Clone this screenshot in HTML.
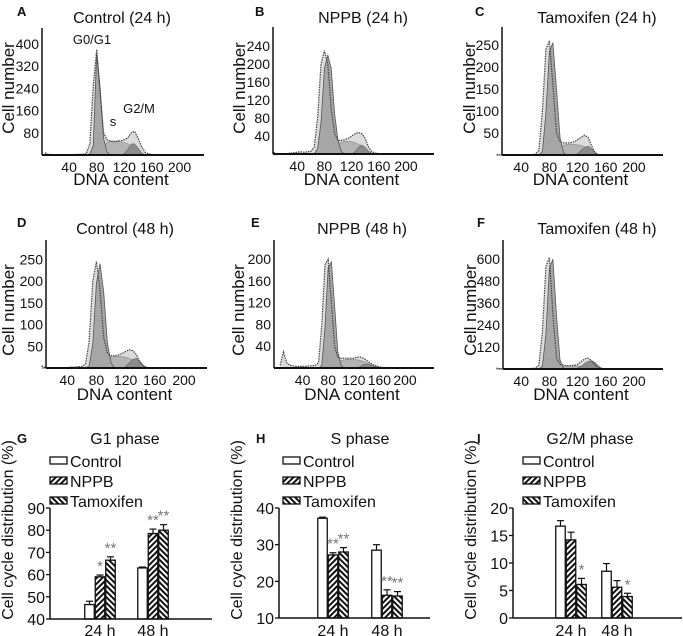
<!DOCTYPE html>
<html><head><meta charset="utf-8">
<style>
html,body{margin:0;padding:0;background:#fff;}
svg{display:block;font-family:"Liberation Sans",Arial,sans-serif;}
</style></head>
<body>
<svg id="fig" width="683" height="636" viewBox="0 0 683 636">
<defs>
<pattern id="hatchN" patternUnits="userSpaceOnUse" width="4" height="4" patternTransform="rotate(45)">
<rect width="4" height="4" fill="#fff"/><rect width="2" height="4" fill="#111"/></pattern>
<pattern id="hatchT" patternUnits="userSpaceOnUse" width="4" height="4" patternTransform="rotate(-45)">
<rect width="4" height="4" fill="#fff"/><rect width="2" height="4" fill="#111"/></pattern>
</defs>
</svg>
<script>
// ---- Histogram data (DNA content bins) ----
const bins = [5,10,15,20,25,30,35,40,45,50,55,60,65,70,75,80,85,90,95,100,105,110,115,120,125,130,135,140,145,150,155,160,165,170];
const rawA = [8,2,1,0,0,0,1,1,1,2,2,3,5,40,250,380,220,80,55,50,48,50,52,55,62,80,85,60,30,10,4,2,1,0];
const g1A  = [0,0,0,0,0,0,0,0,0,0,0,0,0,3,35,370,240,60,10,0,0,0,0,0,0,0,0,0,0,0,0,0,0,0];
const sA   = [0,0,0,0,0,0,0,0,0,0,0,0,0,0,0,0,5,30,45,50,50,50,48,45,40,30,18,8,2,0,0,0,0,0];
const g2A  = [0,0,0,0,0,0,0,0,0,0,0,0,0,0,0,0,0,0,0,0,0,0,0,5,20,40,40,25,8,0,0,0,0,0];
const rawB = [4,1,1,1,1,2,3,4,5,4,5,6,15,80,200,230,200,100,45,30,30,32,35,40,45,48,45,35,15,5,2,1,0,0];
const g1B  = [0,0,0,0,0,0,0,0,0,0,0,0,0,12,70,190,220,190,90,30,5,0,0,0,0,0,0,0,0,0,0,0,0,0];
const sB   = [0,0,0,0,0,0,0,0,0,0,0,0,0,0,0,0,0,4,15,22,26,28,28,27,25,22,18,12,6,2,0,0,0,0];
const g2B  = [0,0,0,0,0,0,0,0,0,0,0,0,0,0,0,0,0,0,0,0,0,0,0,0,5,15,20,15,6,1,0,0,0,0];
const rawC = [1,0,0,0,0,0,0,0,0,0,1,2,10,100,240,260,160,50,30,28,27,28,30,35,40,45,40,20,5,1,0,0,0,0];
const g1C  = [0,0,0,0,0,0,0,0,0,0,0,0,0,8,95,235,255,150,40,5,0,0,0,0,0,0,0,0,0,0,0,0,0,0];
const sC   = [0,0,0,0,0,0,0,0,0,0,0,0,0,0,0,0,0,4,15,22,24,25,24,23,22,18,12,6,2,0,0,0,0,0];
const g2C  = [0,0,0,0,0,0,0,0,0,0,0,0,0,0,0,0,0,0,0,0,0,0,0,3,10,18,20,14,5,0,0,0,0,0];
const rawD = [5,1,1,0,0,1,1,1,2,2,3,4,8,60,200,245,180,70,35,28,28,30,33,38,42,40,30,12,4,1,0,0,0,0];
const g1D  = [0,0,0,0,0,0,0,0,0,0,0,0,0,5,55,195,240,175,60,12,0,0,0,0,0,0,0,0,0,0,0,0,0,0];
const sD   = [0,0,0,0,0,0,0,0,0,0,0,0,0,0,0,0,0,5,18,25,27,27,26,25,22,18,12,6,2,0,0,0,0,0];
const g2D  = [0,0,0,0,0,0,0,0,0,0,0,0,0,0,0,0,0,0,0,0,0,0,0,3,12,20,22,15,5,0,0,0,0,0];
const rawE = [5,30,10,5,4,3,3,3,3,4,4,5,10,80,190,200,120,40,20,18,18,18,18,18,20,20,18,14,10,6,4,2,1,1];
const g1E  = [0,0,0,0,0,0,0,0,0,0,0,0,0,5,75,185,195,115,30,5,0,0,0,0,0,0,0,0,0,0,0,0,0,0];
const sE   = [0,0,0,0,0,0,0,0,0,0,0,0,0,0,0,0,0,3,10,14,15,16,16,16,15,14,12,10,7,4,2,0,0,0];
const g2E  = [0,0,0,0,0,0,0,0,0,0,0,0,0,0,0,0,0,0,0,0,0,0,0,0,0,3,6,7,6,4,2,0,0,0];
const rawF = [5,2,1,1,1,1,1,1,1,2,3,5,20,200,560,610,300,60,25,20,18,18,20,25,40,55,60,45,20,6,2,1,0,0];
const g1F  = [0,0,0,0,0,0,0,0,0,0,0,0,0,15,190,550,600,290,50,5,0,0,0,0,0,0,0,0,0,0,0,0,0,0];
const sF   = [0,0,0,0,0,0,0,0,0,0,0,0,0,0,0,0,0,5,12,15,16,16,16,16,15,12,8,5,2,0,0,0,0,0];
const g2F  = [0,0,0,0,0,0,0,0,0,0,0,0,0,0,0,0,0,0,0,0,0,0,0,5,15,30,42,45,35,15,3,0,0,0];
const dnaTicks = [40,80,120,160,200];

// ---- Bar chart data ----
const groups = ["24 h","48 h"];
const seriesNames = ["Control","NPPB","Tamoxifen"];
const g1Vals = [[46.5,63],[59,78.5],[66.5,80]];
const g1Errs = [[1.5,0.4],[0.8,2],[1.5,2.5]];
const g1Stars = [["",""],["*","**"],["**","**"]];
const sVals = [[37.2,28.5],[27.2,16.2],[28,16]];
const sErrs = [[0.3,1.5],[0.6,1.5],[1.2,1.2]];
const sStars = [["",""],["**","**"],["**","**"]];
const g2Vals = [[16.7,8.5],[14.2,5.6],[6.1,3.9]];
const g2Errs = [[1,1.4],[1.4,1.2],[1.1,0.6]];
const g2Stars = [["",""],["",""],["*","*"]];
const g1Ticks = [40,50,60,70,80,90];
const sTicks = [10,20,30,40];
const g2Ticks = [0,5,10,15,20];

const svg = document.getElementById('fig');
const NS = 'http://www.w3.org/2000/svg';
function mk(tag, attrs, parent){ const e=document.createElementNS(NS,tag); for(const k in attrs) e.setAttribute(k,attrs[k]); (parent||svg).appendChild(e); return e; }
function txt(s, x, y, size, anchor, parent, weight){ const t=mk('text',{x:x,y:y,'font-size':size,'text-anchor':anchor||'middle',fill:'#111'},parent); if(weight) t.setAttribute('font-weight',weight); t.textContent=s; return t; }

const hists = [
 {id:'a',letter:'A',title:'Control (24 h)',raw:rawA,g1:g1A,s:sA,g2:g2A,x0:41.5,kx:0.69,y0:155,ky:0.2775,left:42,right:204,top:28,yt:[80,160,240,320,400],lx:17,ly:16,tx:122,ty:23,ylx:12,yly:88,dy:185},
 {id:'b',letter:'B',title:'NPPB (24 h)',raw:rawB,g1:g1B,s:sB,g2:g2B,x0:270,kx:0.68,y0:154,ky:0.45,left:273,right:434,top:27,yt:[40,80,120,160,200,240],lx:255,ly:16,tx:363,ty:23,ylx:243,yly:88,dy:185},
 {id:'c',letter:'C',title:'Tamoxifen (24 h)',raw:rawC,g1:g1C,s:sC,g2:g2C,x0:493,kx:0.705,y0:155,ky:0.44,left:502,right:663,top:27,yt:[50,100,150,200,250],lx:475,ly:16,tx:597,ty:23,ylx:473,yly:88,dy:185},
 {id:'d',letter:'D',title:'Control (48 h)',raw:rawD,g1:g1D,s:sD,g2:g2D,x0:38,kx:0.73,y0:368,ky:0.435,left:46,right:207,top:240,yt:[50,100,150,200,250],lx:17,ly:227,tx:125,ty:234,ylx:12,yly:310,dy:400},
 {id:'e',letter:'E',title:'NPPB (48 h)',raw:rawE,g1:g1E,s:sE,g2:g2E,x0:277,kx:0.64,y0:368,ky:0.544,left:274,right:434,top:240,yt:[40,80,120,160,200],lx:251,ly:227,tx:362,ty:234,ylx:242,yly:310,dy:400},
 {id:'f',letter:'F',title:'Tamoxifen (48 h)',raw:rawF,g1:g1F,s:sF,g2:g2F,x0:493,kx:0.705,y0:369,ky:0.183,left:503,right:663,top:240,yt:[120,240,360,480,600],lx:477,ly:227,tx:597,ty:234,ylx:474,yly:310,dy:400}
];

hists.forEach(p=>{
  const g = mk('g',{});
  
  
  const xs = v=>p.x0+v*p.kx, ys = v=>p.y0-v*p.ky;
  const yb = p.y0;
  function area(arr){ let d='M'+xs(bins[0])+','+yb; bins.forEach((b,i)=>{ d+=' L'+xs(b).toFixed(1)+','+ys(arr[i]).toFixed(1); }); d+=' L'+xs(bins[bins.length-1])+','+yb+' Z'; return d; }
  function line(arr){ let d=''; bins.forEach((b,i)=>{ d+=(i?' L':'M')+xs(b).toFixed(1)+','+ys(arr[i]).toFixed(1); }); d+=' L'+p.right+','+ys(0); return d; }
  const rf = mk('path',{d:area(p.raw),fill:'#dcdcdc'},g);
   
  const sf = mk('path',{d:area(p.s),fill:'#b4b4b4',stroke:'#888','stroke-width':0.6},g);
   
  const g2f = mk('path',{d:area(p.g2),fill:'#8c8c8c',stroke:'#666','stroke-width':0.6},g);
   
  const g1f = mk('path',{d:area(p.g1),fill:'#a6a6a6',stroke:'#555','stroke-width':0.8},g);
   
  const rl = mk('path',{d:line(p.raw),fill:'none',stroke:'#444','stroke-width':1.2,'stroke-dasharray':'1.5 1'},g);
   
  const ya = mk('line',{x1:p.left,y1:p.top,x2:p.left,y2:p.y0,stroke:'#111','stroke-width':1.5},g);
   
  const xa = mk('line',{x1:p.left,y1:p.y0,x2:p.right,y2:p.y0,stroke:'#111','stroke-width':2},g);
   
  p.yt.forEach(v=>{ const t=txt(String(v),p.left-3,ys(v)+5,14,'end',g);
      });
  dnaTicks.forEach(v=>{ const t=txt(String(v),xs(v),p.y0+17,14,'middle',g);
      });
  const l=txt(p.letter,p.lx,p.ly,13,'start',g,'bold');  
  const ti=txt(p.title,p.tx,p.ty,16,'middle',g);  
  const yl=txt('Cell number',0,0,17,'middle',g); yl.setAttribute('transform','translate('+(p.ylx+2)+','+p.yly+') rotate(-90)');
   
  const xl=txt('DNA content',(p.left+p.right)/2-2,p.dy,17,'middle',g);
   
});
[['G0/G1',92,44],['s',113,126],['G2/M',139,113]].forEach(a=>{ const t=txt(a[0],a[1],a[2],13,'middle');
    });

const bars = [
 {id:'g1',letter:'G',title:'G1 phase',vals:g1Vals,errs:g1Errs,stars:g1Stars,ticks:g1Ticks,min:40,max:90,left:50,right:212,y0:619,ytop:508,centers:[100,153],lx:17,tx:125,legx:50},
 {id:'s',letter:'H',title:'S phase',vals:sVals,errs:sErrs,stars:sStars,ticks:sTicks,min:10,max:40,left:279,right:430,y0:618,ytop:508,centers:[333,387],lx:256,tx:360,legx:283},
 {id:'g2m',letter:'I',title:'G2/M phase',vals:g2Vals,errs:g2Errs,stars:g2Stars,ticks:g2Ticks,min:0,max:20,left:513,right:682,y0:618,ytop:508,centers:[571,617],lx:477,tx:590,legx:523}
];
const fills = ['#fff','url(#hatchN)','url(#hatchT)'];
bars.forEach(c=>{
  const g = mk('g',{});
  
  
  const ys = v=>c.y0-(v-c.min)*(c.y0-c.ytop)/(c.max-c.min);
  const l=txt(c.letter,c.lx,443,13,'start',g,'bold');  
  const ti=txt(c.title,c.tx,444,16,'middle',g);  
  seriesNames.forEach((n,si)=>{
    const r=mk('rect',{x:c.legx,y:457+si*20,width:17,height:7,fill:fills[si],stroke:'#111','stroke-width':1.3},g);
     
    const t=txt(n,c.legx+20,467+si*20,16,'start',g);  
  });
  const bw=9.5, step=10.5;
  c.vals.forEach((sv,si)=>{
    sv.forEach((v,gi)=>{
      const cx=c.centers[gi]+(si-1)*step;
      const top=ys(v), etop=ys(v+c.errs[si][gi]);
      const el=mk('line',{x1:cx,y1:etop,x2:cx,y2:top,stroke:'#111','stroke-width':1.2},g);
       
      const ec=mk('line',{x1:cx-3.5,y1:etop,x2:cx+3.5,y2:etop,stroke:'#111','stroke-width':1.2},g);
       
      const r=mk('rect',{x:cx-bw/2,y:top,width:bw,height:c.y0-top,fill:fills[si],stroke:'#111','stroke-width':1.3},g);
      
      
      const st=c.stars[si][gi];
      if(st){ const t=txt(st,cx,etop-4,15,'middle',g); t.setAttribute('fill','#777');
          }
    });
  });
  const ya=mk('line',{x1:c.left,y1:c.ytop,x2:c.left,y2:c.y0,stroke:'#111','stroke-width':1.5},g);
   
  const xa=mk('line',{x1:c.left,y1:c.y0,x2:c.right,y2:c.y0,stroke:'#111','stroke-width':1.5},g);
   
  c.ticks.forEach(v=>{
    const tk=mk('line',{x1:c.left-4,y1:ys(v),x2:c.left,y2:ys(v),stroke:'#111','stroke-width':1.3},g);
     
    const t=txt(String(v),c.left-5,ys(v)+6,16,'end',g);  
  });
  groups.forEach((gn,gi)=>{ const t=txt(gn,c.centers[gi],636,16,'middle',g);
      });
  const yl=txt('Cell cycle distribution (%)',0,0,16,'middle',g);
  yl.setAttribute('transform','translate('+(c.left-37)+',530) rotate(-90)');
   
});
</script>
</body></html>
